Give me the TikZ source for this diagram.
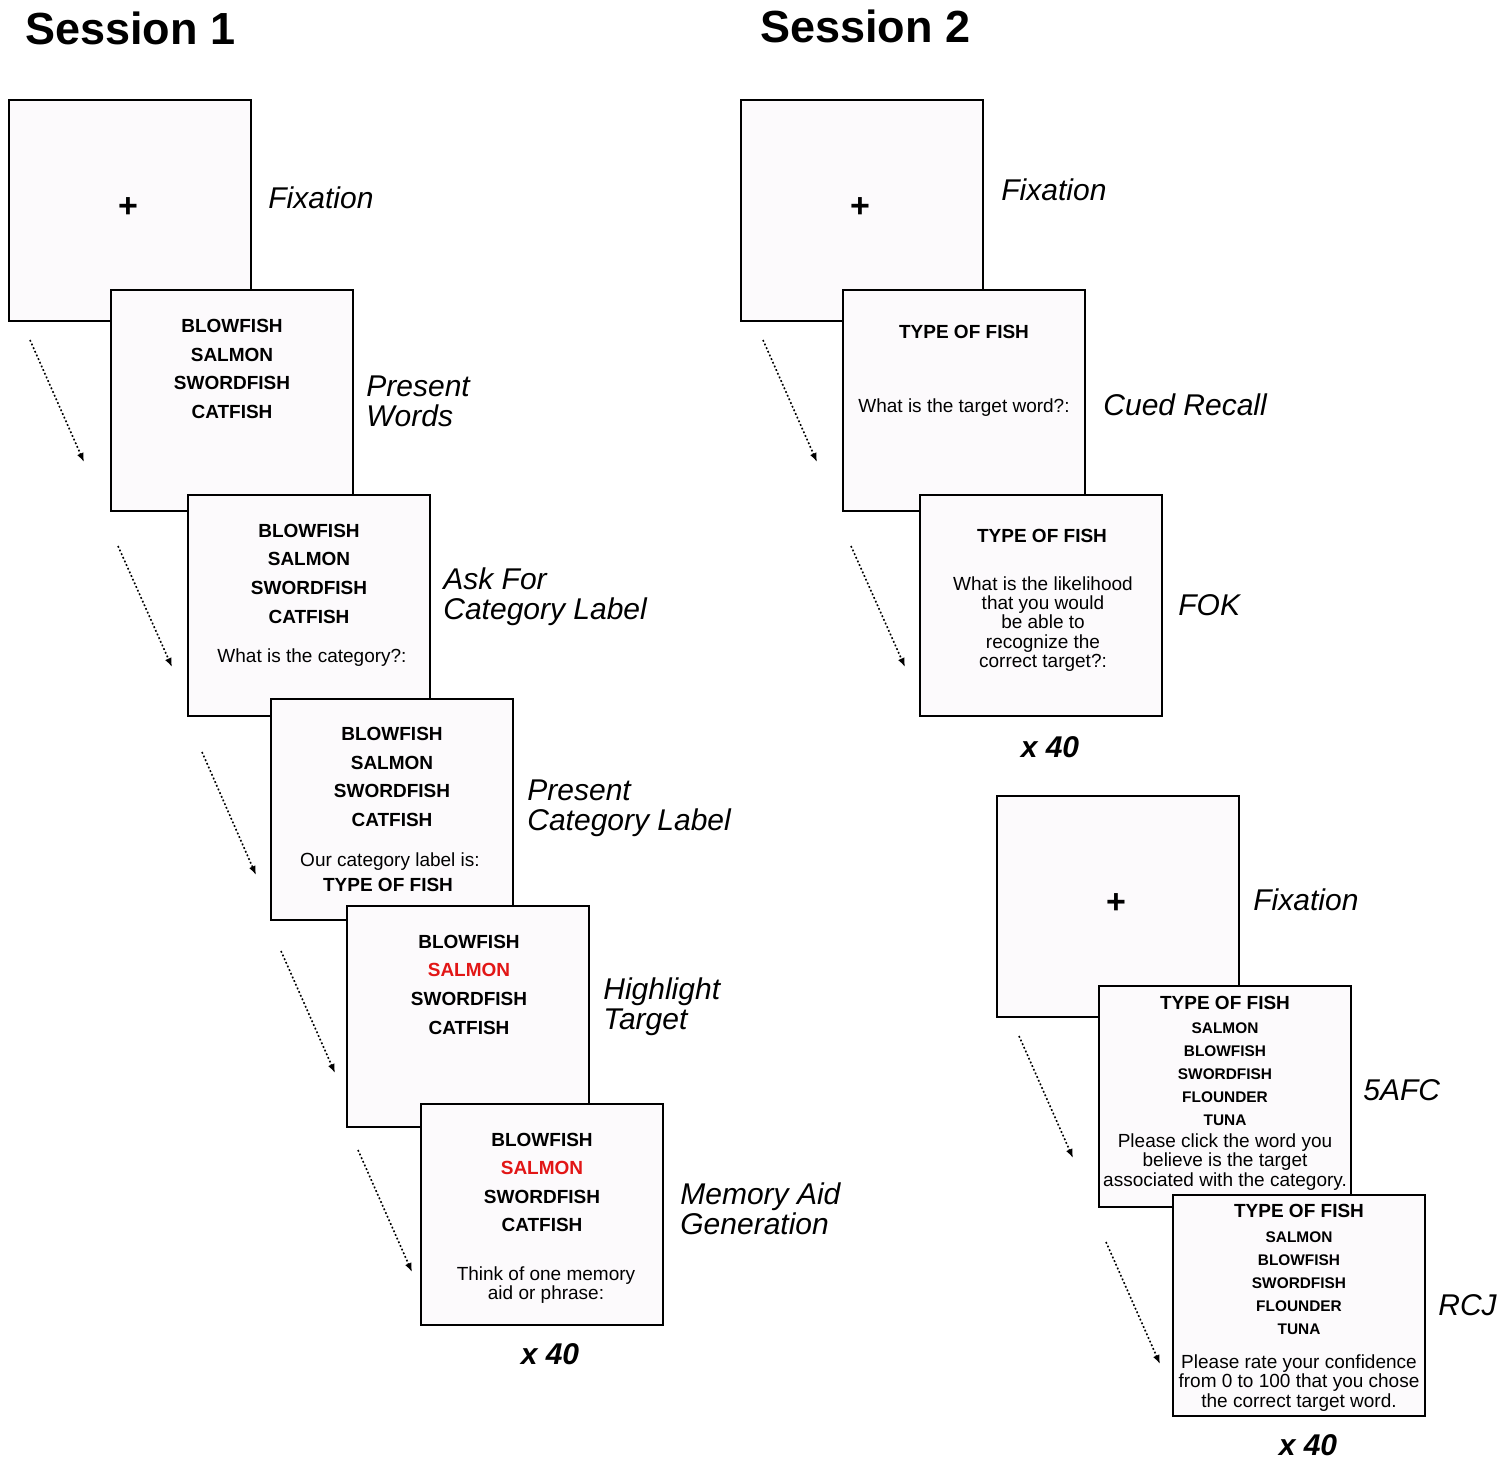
\documentclass[tikz,border=0pt]{standalone}
\usepackage{fontspec}
\setmainfont{Liberation Sans}
\usetikzlibrary{arrows.meta,positioning}
\definecolor{screenfill}{RGB}{252,250,252}
\definecolor{hilite}{RGB}{226,22,22}

\begin{document}
\begin{tikzpicture}[x=0.5pt,y=-0.5pt,
  screen/.style={draw,line width=1pt,fill=screenfill,minimum width=121pt,minimum height=110.5pt,inner sep=0pt},
  widescreen/.style={screen,minimum width=126pt},
  word/.style={font=\fontsize{9.5}{11}\selectfont\bfseries,anchor=mid,inner sep=0pt,yshift=-1pt},
  smallword/.style={font=\fontsize{7.7}{9}\selectfont\bfseries,anchor=mid,inner sep=0pt,yshift=-1pt},
  plain/.style={font=\fontsize{9.5}{9.7}\selectfont,align=center,inner sep=0pt,yshift=-1pt},
  cross/.style={font=\fontsize{17}{17}\selectfont\bfseries,inner sep=0pt},
  lbl/.style={font=\fontsize{15}{15}\selectfont\itshape,align=left,anchor=west,inner sep=0pt},
  title/.style={font=\fontsize{22.5}{24}\selectfont\bfseries,anchor=west,inner sep=0pt},
  reps/.style={font=\fontsize{15}{15}\selectfont\bfseries\itshape,inner sep=0pt},
  seq/.style={dash pattern=on 0.9pt off 1.1pt,line width=0.8pt,-{Latex[length=4.5pt,width=3.5pt]}}]
\useasboundingbox (0,0) rectangle (1500,1466);

% titles
\node[title] (t1) at (25,28) {Session 1};
\node[title] (t2) at (760,26) {Session 2};

% ---------- Session 1 ----------
\node[screen] (fixA) at (130,210.5) {};
\node[cross] (plusA) at (128,208) {+};
\node[lbl] (lfixA) at (268,198) {Fixation};

\node[screen] (words) at (232,400.5) {};
\node[word] (w1) at (232,325) {BLOWFISH};
\node[word] (w2) at (232,354) {SALMON};
\node[word] (w3) at (232,382) {SWORDFISH};
\node[word] (w4) at (232,411) {CATFISH};
\node[lbl] (lwords) at (366,401) {Present\\Words};

\node[screen] (ask) at (308.5,605.5) {};
\node[word] (a1) at (309,530) {BLOWFISH};
\node[word] (a2) at (309,558) {SALMON};
\node[word] (a3) at (309,587) {SWORDFISH};
\node[word] (a4) at (309,616) {CATFISH};
\node[plain] (a5) at (312,656) {What is the category?:};
\node[lbl] (lask) at (443,597) {Ask For\\Category Label};

\node[screen] (cat) at (391.5,809.5) {};
\node[word] (c1) at (392,733) {BLOWFISH};
\node[word] (c2) at (392,762) {SALMON};
\node[word] (c3) at (392,790) {SWORDFISH};
\node[word] (c4) at (392,819) {CATFISH};
\node[plain] (c5) at (390,860) {Our category label is:};
\node[word] (c6) at (388,884) {TYPE OF FISH};
\node[lbl] (lcat) at (527,808) {Present\\Category Label};

\node[screen] (hl) at (468,1016.5) {};
\node[word] (h1) at (469,941) {BLOWFISH};
\node[word,text=hilite] (h2) at (469,969) {SALMON};
\node[word] (h3) at (469,998) {SWORDFISH};
\node[word] (h4) at (469,1027) {CATFISH};
\node[lbl] (lhl) at (603,1007) {Highlight\\Target};

\node[screen] (aid) at (542,1214.5) {};
\node[word] (m1) at (542,1139) {BLOWFISH};
\node[word,text=hilite] (m2) at (542,1167) {SALMON};
\node[word] (m3) at (542,1196) {SWORDFISH};
\node[word] (m4) at (542,1224) {CATFISH};
\node[plain] (m5) at (546,1283) {Think of one memory\\aid or phrase:};
\node[lbl] (laid) at (680,1209) {Memory Aid\\Generation};
\node[reps] (r1) at (550,1354) {x 40};

\coordinate (s1) at (30,340);   \coordinate (e1) at (84,462);
\coordinate (s2) at (118,546);  \coordinate (e2) at (172,667);
\coordinate (s3) at (202,752);  \coordinate (e3) at (256,875);
\coordinate (s4) at (281,951);  \coordinate (e4) at (335,1073);
\coordinate (s5) at (358,1150); \coordinate (e5) at (412,1272);
\draw[seq] (s1) -- (e1);
\draw[seq] (s2) -- (e2);
\draw[seq] (s3) -- (e3);
\draw[seq] (s4) -- (e4);
\draw[seq] (s5) -- (e5);

% ---------- Session 2 ----------
\node[screen] (fixB) at (862,210.5) {};
\node[cross] (plusB) at (860,208) {+};
\node[lbl] (lfixB) at (1001,190) {Fixation};

\node[screen] (cued) at (964,400.5) {};
\node[word] (q1) at (964,331) {TYPE OF FISH};
\node[plain] (q2) at (964,406) {What is the target word?:};
\node[lbl] (lcued) at (1103,405) {Cued Recall};

\node[screen] (fok) at (1040.5,605.5) {};
\node[word] (f1) at (1042,535) {TYPE OF FISH};
\node[plain] (f2) at (1043,622) {What is the likelihood\\that you would\\be able to\\recognize the\\correct target?:};
\node[lbl] (lfok) at (1178,605) {FOK};
\node[reps] (r2) at (1050,747) {x 40};

\coordinate (s6) at (763,340);  \coordinate (e6) at (817,462);
\coordinate (s7) at (851,546);  \coordinate (e7) at (905,667);
\draw[seq] (s6) -- (e6);
\draw[seq] (s7) -- (e7);

\node[screen] (fixC) at (1118,906.5) {};
\node[cross] (plusC) at (1116,904) {+};
\node[lbl] (lfixC) at (1253,900) {Fixation};

\node[widescreen] (afc) at (1225,1096.5) {};
\node[word] (k0) at (1225,1002) {TYPE OF FISH};
\node[smallword] (k1) at (1225,1026) {SALMON};
\node[smallword] (k2) at (1225,1049) {BLOWFISH};
\node[smallword] (k3) at (1225,1072) {SWORDFISH};
\node[smallword] (k4) at (1225,1095) {FLOUNDER};
\node[smallword] (k5) at (1225,1118) {TUNA};
\node[plain] (k6) at (1225,1160) {Please click the word you\\believe is the target\\associated with the category.};
\node[lbl] (lafc) at (1363,1090) {5AFC};

\node[widescreen] (rcj) at (1299,1305.5) {};
\node[word] (j0) at (1299,1210) {TYPE OF FISH};
\node[smallword] (j1) at (1299,1235) {SALMON};
\node[smallword] (j2) at (1299,1258) {BLOWFISH};
\node[smallword] (j3) at (1299,1281) {SWORDFISH};
\node[smallword] (j4) at (1299,1304) {FLOUNDER};
\node[smallword] (j5) at (1299,1327) {TUNA};
\node[plain] (j6) at (1299,1381) {Please rate your confidence\\from 0 to 100 that you chose\\the correct target word.};
\node[lbl] (lrcj) at (1438,1305) {RCJ};
\node[reps] (r3) at (1308,1445) {x 40};

\coordinate (s8) at (1019,1036); \coordinate (e8) at (1073,1158);
\coordinate (s9) at (1106,1242); \coordinate (e9) at (1160,1364);
\draw[seq] (s8) -- (e8);
\draw[seq] (s9) -- (e9);
\end{tikzpicture}
\end{document}
